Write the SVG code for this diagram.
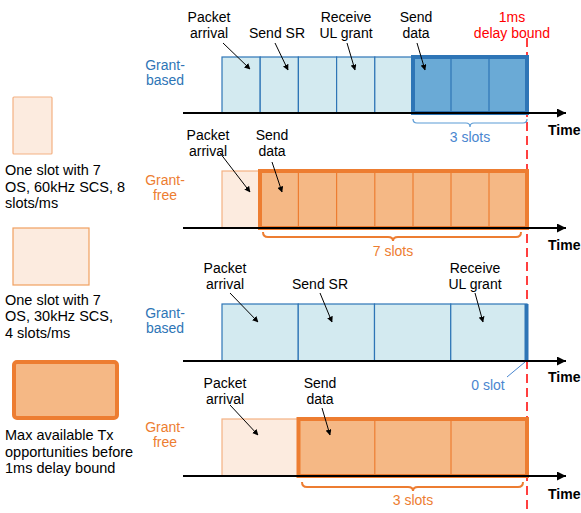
<svg xmlns="http://www.w3.org/2000/svg" width="581" height="513" viewBox="0 0 581 513">
<defs>
<marker id="ah" viewBox="0 0 10 10" refX="9" refY="5" markerWidth="6" markerHeight="6" orient="auto" markerUnits="userSpaceOnUse"><path d="M0,0 L10,5 L0,10 z" fill="#000"/></marker>
<marker id="axh" viewBox="0 0 10 10" refX="10" refY="5" markerWidth="11" markerHeight="9" orient="auto" markerUnits="userSpaceOnUse"><path d="M0,0 L10,5 L0,10 z" fill="#000"/></marker>
<style>
text{font-family:"Liberation Sans",Arial,sans-serif;font-size:14px;fill:#000}
.c{text-anchor:middle}
.blue{fill:#2e75b6}
.org{fill:#ed7d31}
.red{fill:#ff0000}
.time{font-weight:bold}
.leg{font-size:14.5px}
.lb{fill:#d3eaf0;stroke:#2e75b6;stroke-width:1.2}
.db{fill:#6aaad6;stroke:#2e75b6;stroke-width:4}
.lp{fill:#fcebdf;stroke:#f4b183;stroke-width:1.2}
.op{fill:#f5b885;stroke:#ed7d31;stroke-width:4}
.sl{stroke:#ed7d31;stroke-width:1.2}
.axis{stroke:#000;stroke-width:2;marker-end:url(#axh)}
.arr{stroke:#000;stroke-width:1;fill:none;marker-end:url(#ah)}
.brb{fill:none;stroke:#5b9bd5;stroke-width:1.2}
.bro{fill:none;stroke:#ed7d31;stroke-width:2}
</style>
</defs>
<rect width="581" height="513" fill="#fff"/>

<g id="legend">
<rect x="13" y="97" width="39" height="57" rx="1" class="lp"/>
<text x="5" y="175" class="leg">One slot with 7</text>
<text x="5" y="192" class="leg">OS, 60kHz SCS, 8</text>
<text x="5" y="208" class="leg">slots/ms</text>
<rect x="13" y="228" width="76" height="57" class="lp" style="stroke:#f0a060"/>
<text x="5" y="305" class="leg">One slot with 7</text>
<text x="5" y="321" class="leg">OS, 30kHz SCS,</text>
<text x="5" y="338" class="leg">4 slots/ms</text>
<rect x="14" y="362" width="103" height="56" rx="3" class="op"/>
<text x="5" y="440" class="leg">Max available Tx</text>
<text x="5" y="457" class="leg">opportunities before</text>
<text x="5" y="473" class="leg">1ms delay bound</text>
</g>

<g id="deadline">
<line x1="527" y1="38" x2="527" y2="513" stroke="#ff0000" stroke-width="1.5" stroke-dasharray="9,5"/>
<text x="512" y="22" class="c red">1ms</text>
<text x="512" y="38" class="c red">delay bound</text>
</g>

<g id="row1">
<text x="165" y="70" class="c blue">Grant-</text>
<text x="165" y="85" class="c blue">based</text>
<rect x="222" y="57" width="38.2" height="56" class="lb"/>
<rect x="260.2" y="57" width="38.2" height="56" class="lb"/>
<rect x="298.4" y="57" width="38.2" height="56" class="lb"/>
<rect x="336.6" y="57" width="38.2" height="56" class="lb"/>
<rect x="374.8" y="57" width="38.2" height="56" class="lb"/>
<rect x="413" y="57" width="114" height="56" class="db"/>
<line x1="451" y1="57" x2="451" y2="113" stroke="#2e75b6" stroke-width="1.2"/>
<line x1="489" y1="57" x2="489" y2="113" stroke="#2e75b6" stroke-width="1.2"/>
<text x="209" y="22" class="c">Packet</text>
<text x="209" y="38" class="c">arrival</text>
<text x="277" y="38" class="c">Send SR</text>
<text x="346" y="22" class="c">Receive</text>
<text x="346" y="38" class="c">UL grant</text>
<text x="416" y="22" class="c">Send</text>
<text x="416" y="38" class="c">data</text>
<text x="470" y="142" class="c" style="fill:#4a86cf">3 slots</text>
<text x="548" y="135" class="time">Time</text>
</g>

<g id="row2">
<text x="165" y="185" class="c org">Grant-</text>
<text x="165" y="200" class="c org">free</text>
<rect x="222" y="171" width="38" height="57" class="lp"/>
<rect x="260" y="171" width="267" height="57" class="op"/>
<line x1="298.4" y1="171" x2="298.4" y2="228" class="sl"/>
<line x1="336.6" y1="171" x2="336.6" y2="228" class="sl"/>
<line x1="374.8" y1="171" x2="374.8" y2="228" class="sl"/>
<line x1="413" y1="171" x2="413" y2="228" class="sl"/>
<line x1="451" y1="171" x2="451" y2="228" class="sl"/>
<line x1="489" y1="171" x2="489" y2="228" class="sl"/>
<text x="208" y="140" class="c">Packet</text>
<text x="208" y="156" class="c">arrival</text>
<text x="272" y="140" class="c">Send</text>
<text x="272" y="156" class="c">data</text>
<text x="393" y="256" class="c org">7 slots</text>
<text x="548" y="250" class="time">Time</text>
</g>

<g id="row3">
<text x="165" y="318" class="c blue">Grant-</text>
<text x="165" y="333" class="c blue">based</text>
<rect x="222" y="304" width="76.25" height="57" class="lb"/>
<rect x="298.25" y="304" width="76.25" height="57" class="lb"/>
<rect x="374.5" y="304" width="76.25" height="57" class="lb"/>
<rect x="450.75" y="304" width="76.25" height="57" class="lb"/>
<rect x="524.5" y="304" width="4" height="57" fill="#2e75b6"/>
<text x="225" y="273" class="c">Packet</text>
<text x="225" y="289" class="c">arrival</text>
<text x="320" y="289" class="c">Send SR</text>
<text x="475" y="273" class="c">Receive</text>
<text x="475" y="289" class="c">UL grant</text>
<text x="488" y="390" class="c" style="fill:#4a86cf">0 slot</text>
<text x="548" y="382" class="time">Time</text>
</g>

<g id="row4">
<text x="165" y="432" class="c org">Grant-</text>
<text x="165" y="447" class="c org">free</text>
<rect x="222" y="419" width="76" height="57" class="lp"/>
<rect x="298.5" y="419" width="228.5" height="57" class="op"/>
<line x1="374.8" y1="419" x2="374.8" y2="476" class="sl"/>
<line x1="451" y1="419" x2="451" y2="476" class="sl"/>
<text x="225" y="388" class="c">Packet</text>
<text x="225" y="404" class="c">arrival</text>
<text x="320" y="388" class="c">Send</text>
<text x="320" y="404" class="c">data</text>
<text x="413" y="505" class="c org">3 slots</text>
<text x="548" y="499" class="time">Time</text>
</g>

<g id="connectors">
<line x1="183" y1="113" x2="566" y2="113" class="axis"/>
<line x1="183" y1="228" x2="566" y2="228" class="axis"/>
<line x1="183" y1="361" x2="566" y2="361" class="axis"/>
<line x1="183" y1="476" x2="566" y2="476" class="axis"/>
<line x1="223" y1="43" x2="250" y2="69" class="arr"/>
<line x1="275" y1="43" x2="288" y2="70" class="arr"/>
<line x1="347" y1="43" x2="355" y2="70" class="arr"/>
<line x1="417" y1="43" x2="425" y2="70" class="arr"/>
<line x1="220" y1="153" x2="250" y2="192" class="arr"/>
<line x1="272" y1="162" x2="282" y2="192" class="arr"/>
<line x1="230" y1="293" x2="258" y2="322" class="arr"/>
<line x1="320" y1="293" x2="332" y2="322" class="arr"/>
<line x1="475" y1="293" x2="483" y2="322" class="arr"/>
<line x1="230" y1="405" x2="258" y2="435" class="arr"/>
<line x1="322" y1="408" x2="330" y2="435" class="arr"/>
<line x1="507" y1="377" x2="525" y2="362" stroke="#4a86cf" stroke-width="1"/>
<path d="M413,119 q0,4 4,4 L466,123 q4,0 4,4 q0,-4 4,-4 L523,123 q4,0 4,-4" class="brb"/>
<path d="M263,232 q0,5 5,5 L388,237 q5,0 5,4 q0,-4 5,-4 L516,237 q5,0 5,-5" class="bro"/>
<path d="M302,482 q0,5 5,5 L408,487 q5,0 5,4 q0,-4 5,-4 L518,487 q5,0 5,-5" class="bro"/>
</g>
</svg>
